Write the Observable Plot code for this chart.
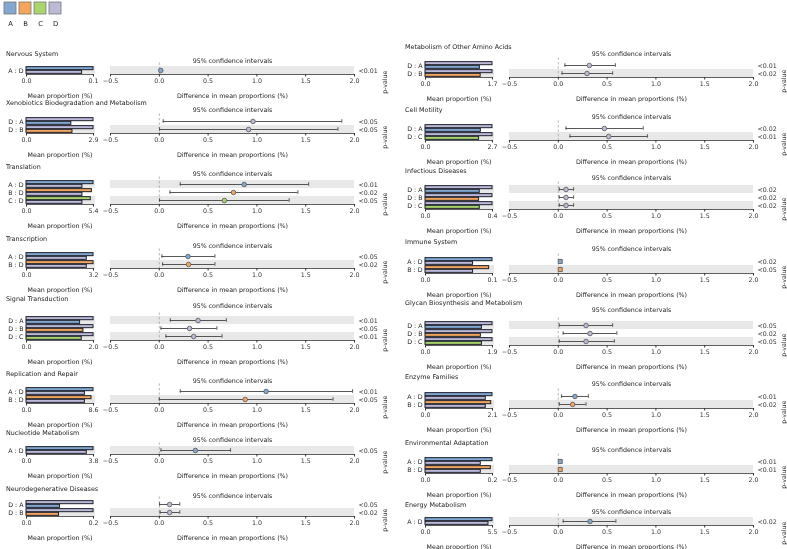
<!DOCTYPE html>
<html><head><meta charset="utf-8">
<script src="https://cdn.jsdelivr.net/npm/d3@7"></script>
<script src="https://cdn.jsdelivr.net/npm/@observablehq/plot@0.6"></script>
<style>
body{margin:0;background:#fff;font-family:"DejaVu Sans",sans-serif;}
#root{position:relative;width:787px;height:549px;overflow:hidden;background:#fff;}
#root > svg, #root > .ptitle{will-change:transform;-webkit-font-smoothing:antialiased;}
.ptitle{position:absolute;font-size:6.4px;line-height:7px;color:#222;white-space:nowrap;}
</style></head><body><div id="root"></div>
<script>
// ---------------- DATA ----------------
const groups = ["A", "B", "C", "D"];
const groupColors = ["#80a8d0", "#f5a55c", "#a8d66b", "#bdb9d9"];

const panelTitles = [
  "Nervous System", "Xenobiotics Biodegradation and Metabolism", "Translation", "Transcription",
  "Signal Transduction", "Replication and Repair", "Nucleotide Metabolism", "Neurodegenerative Diseases",
  "Metabolism of Other Amino Acids", "Cell Motility", "Infectious Diseases", "Immune System",
  "Glycan Biosynthesis and Metabolism", "Enzyme Families", "Environmental Adaptation", "Energy Metabolism"
];

const comparisons = [
  ["A : D"], ["D : A", "D : B"], ["A : D", "B : D", "C : D"], ["A : D", "B : D"],
  ["D : A", "D : B", "D : C"], ["A : D", "B : D"], ["A : D"], ["D : A", "D : B"],
  ["D : A", "D : B"], ["D : A", "D : C"], ["D : A", "D : B", "D : C"], ["A : D", "B : D"],
  ["D : A", "D : B", "D : C"], ["A : D", "B : D"], ["A : D", "B : D"], ["A : D"]
];

const axisMax = [0.1, 2.9, 5.4, 3.2, 2.0, 8.6, 3.8, 0.2, 1.7, 2.7, 0.4, 0.1, 1.9, 2.1, 0.2, 5.5];

const meanFirst = [
  [0.1], [2.9, 2.9], [5.4, 5.27, 5.18], [3.2, 3.2], [2.0, 2.0, 2.0], [8.6, 8.34], [3.8], [0.2, 0.2],
  [1.7, 1.7], [2.7, 2.7], [0.4, 0.4, 0.4], [0.1, 0.095], [1.9, 1.9, 1.9], [2.1, 2.06], [0.2, 0.195], [5.5]
];
const meanSecond = [
  [0.083], [1.94, 1.99], [4.51, 4.51, 4.51], [2.88, 2.88], [1.6, 1.7, 1.65], [7.5, 7.5], [3.42], [0.1, 0.097],
  [1.38, 1.40], [2.23, 2.16], [0.324, 0.32, 0.324], [0.071, 0.071], [1.6, 1.57, 1.6], [1.89, 1.89], [0.165, 0.165], [5.17]
];

const diffMean = [
  [0.015], [0.96, 0.915], [0.87, 0.76, 0.667], [0.294, 0.30], [0.397, 0.31, 0.352], [1.094, 0.88], [0.37], [0.106, 0.106],
  [0.318, 0.294], [0.472, 0.516], [0.079, 0.079, 0.079], [0.02, 0.02], [0.284, 0.325, 0.284], [0.171, 0.147], [0.02, 0.02], [0.325]
];
const ciLow = [
  [0.008], [0.04, 0.003], [0.215, 0.11, 0.003], [0.027, 0.034], [0.113, 0.017, 0.068], [0.215, 0.0], [0.017], [0.003, 0.008],
  [0.068, 0.038], [0.079, 0.12], [0.01, 0.01, 0.01], [0.014, 0.014], [0.01, 0.05, 0.01], [0.034, 0.01], [0.014, 0.014], [0.05]
];
const ciHigh = [
  [0.022], [1.87, 1.83], [1.53, 1.42, 1.33], [0.57, 0.57], [0.687, 0.59, 0.643], [1.98, 1.78], [0.73], [0.21, 0.21],
  [0.585, 0.557], [0.87, 0.913], [0.157, 0.157, 0.157], [0.026, 0.026], [0.557, 0.6, 0.574], [0.308, 0.284], [0.026, 0.026], [0.59]
];

const pValues = [
  ["<0.01"], ["<0.05", "<0.05"], ["<0.01", "<0.02", "<0.05"], ["<0.05", "<0.02"],
  ["<0.01", "<0.05", "<0.01"], ["<0.01", "<0.05"], ["<0.05"], ["<0.05", "<0.02"],
  ["<0.01", "<0.02"], ["<0.02", "<0.01"], ["<0.02", "<0.02", "<0.02"], ["<0.02", "<0.05"],
  ["<0.05", "<0.02", "<0.05"], ["<0.01", "<0.02"], ["<0.01", "<0.01"], ["<0.02"]
];

const ciTicks = [-0.5, 0.0, 0.5, 1.0, 1.5, 2.0];

// ---------------- LAYOUT ----------------
const titleY    = [54, 103, 167, 239, 299, 374, 433, 489, 47, 110, 171, 242, 303, 377, 443, 505];
const firstRowY = [70, 121, 184, 256, 320, 391, 450, 504, 65, 128, 189, 261, 325, 396, 461, 521];
const squareMarker = new Set([11, 14]);
const STEP = 8;
const FONT = "DejaVu Sans";
const FS = "6.3px";
const root = document.getElementById("root");
const colorOf = g => groupColors[groups.indexOf(g)];
const fmt = d => (d < 0 ? "\u2212" : "") + Math.abs(d).toFixed(1);

function place(el, left, top) {
  el.style.position = "absolute";
  el.style.left = left + "px";
  el.style.top = top + "px";
  root.appendChild(el);
}

// legend
const legend = Plot.plot({
  width: 66, height: 30, marginTop: 2, marginLeft: 1, marginRight: 1, marginBottom: 16,
  style: {background: "none", fontFamily: FONT, fontSize: "6.8px", color: "#222", overflow: "visible"},
  x: {domain: groups, padding: 0.18, label: null, tickSize: 0, tickPadding: 7},
  y: {axis: null},
  color: {type: "ordinal", domain: groups, range: groupColors},
  marks: [Plot.cell(groups, {x: d => d, fill: d => d, stroke: "#777", strokeWidth: 0.8})]
});
place(legend, 0, 0);

for (let p = 0; p < panelTitles.length; p++) {
  const x0 = p < 8 ? 0 : 399;
  const T = titleY[p], R0 = firstRowY[p];
  const comps = comparisons[p];
  const n = comps.length;
  const rows = comps.map((c, i) => {
    const [g1, g2] = c.split(" : ");
    return {i, label: c, g1, g2, m1: meanFirst[p][i], m2: meanSecond[p][i],
      d: diffMean[p][i], lo: ciLow[p][i], hi: ciHigh[p][i], pv: pValues[p][i], band: (n - 1 - i) % 2 === 0};
  });
  const bands = rows.filter(r => r.band);

  const t = document.createElement("div");
  t.className = "ptitle";
  t.textContent = panelTitles[p];
  place(t, x0 + 6, T - 3.5);

  const svgTop = T + 3;
  const rowsTop = R0 - STEP / 2;
  const mTop = rowsTop - svgTop;
  const mBottom = 28;
  const H = mTop + n * STEP + mBottom;
  const style = {background: "none", fontFamily: FONT, fontSize: FS, color: "#333", overflow: "visible"};
  const mx = axisMax[p];

  const barPlot = Plot.plot({
    width: 26 + 67 + 12, height: H, marginLeft: 26, marginRight: 12, marginTop: mTop, marginBottom: mBottom,
    style,
    x: {domain: [0, mx], ticks: [0, mx], tickFormat: d => d.toFixed(1), tickSize: 2.5, tickPadding: 2, label: null},
    y: {domain: [-0.5, n - 0.5], reverse: true, axis: null},
    marks: [
      Plot.rect(bands, {x1: 0, x2: mx * 1.03, y1: r => r.i - 0.5, y2: r => r.i + 0.5, fill: "#e8e8e8"}),
      Plot.rect(rows, {x1: 0, x2: "m1", y1: r => r.i - 0.42, y2: r => r.i - 0.04, fill: r => colorOf(r.g1), stroke: "#1c1f2a", strokeWidth: 1}),
      Plot.rect(rows, {x1: 0, x2: "m2", y1: r => r.i + 0.04, y2: r => r.i + 0.42, fill: r => colorOf(r.g2), stroke: "#1c1f2a", strokeWidth: 1}),
      Plot.ruleY([n - 0.5], {stroke: "#333", strokeWidth: 0.8}),
      Plot.text(rows, {x: 0, y: "i", text: "label", textAnchor: "end", dx: -3, fill: "#222", lineAnchor: "middle"}),
      Plot.text(["Mean proportion (%)"], {frameAnchor: "bottom", dy: 21, text: d => d, fill: "#222", lineAnchor: "middle"})
    ]
  });
  place(barPlot, x0, svgTop);

  const sym = squareMarker.has(p) ? "square" : "circle";
  const ciPlot = Plot.plot({
    width: 8 + 244 + 36, height: H, marginLeft: 8, marginRight: 36, marginTop: mTop, marginBottom: mBottom,
    style,
    x: {domain: [-0.5, 2.0], ticks: ciTicks, tickFormat: fmt, tickSize: 2.5, tickPadding: 2, label: null},
    y: {domain: [-0.5, n - 0.5], reverse: true, axis: null},
    marks: [
      Plot.rect(bands, {x1: -0.5, x2: 2.0, y1: r => r.i - 0.5, y2: r => r.i + 0.5, fill: "#e8e8e8"}),
      Plot.ruleX([0], {y1: -0.95, y2: n - 0.5, stroke: "#999", strokeDasharray: "2.5,2", strokeWidth: 0.7}),
      Plot.ruleY(rows, {x1: "lo", x2: "hi", y: "i", stroke: "#444", strokeWidth: 0.9}),
      Plot.ruleX(rows, {x: "lo", y1: r => r.i - 0.22, y2: r => r.i + 0.22, stroke: "#444", strokeWidth: 0.9}),
      Plot.ruleX(rows, {x: "hi", y1: r => r.i - 0.22, y2: r => r.i + 0.22, stroke: "#444", strokeWidth: 0.9}),
      Plot.dot(rows, {x: "d", y: "i", r: 2.3, symbol: sym, fill: r => colorOf(r.g1), stroke: "#555", strokeWidth: 0.8}),
      Plot.ruleY([n - 0.5], {stroke: "#333", strokeWidth: 0.8}),
      Plot.text(rows, {x: 2.0, y: "i", text: "pv", textAnchor: "start", dx: 4, fill: "#333", lineAnchor: "middle"}),
      Plot.text(["p-value"], {frameAnchor: "right", dx: 30, rotate: -90, text: d => d, fill: "#333", lineAnchor: "middle"}),
      Plot.text(["95% confidence intervals"], {frameAnchor: "top", dy: (T + 6.5) - rowsTop, text: d => d, fill: "#222", lineAnchor: "middle"}),
      Plot.text(["Difference in mean proportions (%)"], {frameAnchor: "bottom", dy: 21, text: d => d, fill: "#222", lineAnchor: "middle"})
    ]
  });
  place(ciPlot, x0 + 102, svgTop);
}
</script>
</body></html>
